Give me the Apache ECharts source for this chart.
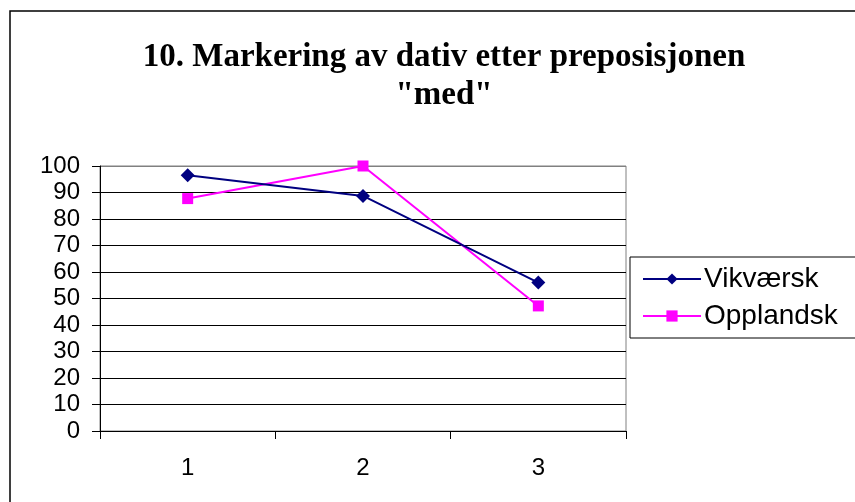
<!DOCTYPE html>
<html>
<head>
<meta charset="utf-8">
<script src="https://cdn.jsdelivr.net/npm/echarts@6/dist/echarts.min.js"></script>
<style>
  html, body { margin: 0; padding: 0; background: #fff; }
  #chart { width: 855px; height: 502px; }
</style>
</head>
<body>
<div id="chart"></div>
<script>
// Categories and series values
var categories = ['1', '2', '3'];
var vikvaersk = [96.5, 88.7, 56.0];
var opplandsk = [87.7, 100, 47.2];
var seriesNames = ['Vikværsk', 'Opplandsk'];
var titleText = '10. Markering av dativ etter preposisjonen\n"med"';
var yMin = 0, yMax = 100, yStep = 10;

var chart = echarts.init(document.getElementById('chart'), null, { renderer: 'canvas' });

var axisFont = 'Liberation Sans, Arial, sans-serif';

var option = {
  backgroundColor: '#ffffff',
  animation: false,
  title: {
    text: titleText,
    left: 439,
    top: 33,
    textAlign: 'center',
    textStyle: {
      fontFamily: 'Liberation Serif, Times New Roman, serif',
      fontWeight: 'bold',
      fontSize: 33,
      lineHeight: 38,
      color: '#000'
    }
  },
  graphic: [{
    type: 'rect',
    shape: { x: 10, y: 11, width: 900, height: 600 },
    style: { fill: 'none', stroke: '#000', lineWidth: 1.5 },
    silent: true,
    z: 100
  }],
  legend: {
    orient: 'vertical',
    left: 630,
    top: 257,
    data: seriesNames,
    backgroundColor: '#fff',
    borderColor: '#000',
    borderWidth: 1,
    padding: [8, 60, 8, 12],
    itemWidth: 58,
    itemHeight: 14,
    itemGap: 9,
    textStyle: {
      fontFamily: axisFont,
      fontSize: 28,
      color: '#000',
      padding: [0, 0, 0, -2]
    }
  },
  grid: {
    left: 100,
    right: 229,
    top: 166,
    bottom: 71,
    show: true,
    borderColor: '#808080',
    borderWidth: 1,
    backgroundColor: '#fff'
  },
  xAxis: {
    type: 'category',
    data: categories,
    boundaryGap: true,
    axisLine: { lineStyle: { color: '#000', width: 1 } },
    axisTick: { show: true, length: 8, lineStyle: { color: '#000' } },
    axisLabel: {
      fontFamily: axisFont,
      fontSize: 24,
      color: '#000',
      margin: 25
    },
    splitLine: { show: false }
  },
  yAxis: {
    type: 'value',
    min: yMin,
    max: yMax,
    interval: yStep,
    axisLine: { show: true, lineStyle: { color: '#000', width: 1 } },
    axisTick: { show: true, length: 8, lineStyle: { color: '#000' } },
    axisLabel: {
      fontFamily: axisFont,
      fontSize: 24,
      color: '#000',
      margin: 20
    },
    splitLine: {
      show: true,
      lineStyle: {
        color: ['#000', '#000', '#000', '#000', '#000', '#000', '#000', '#000', '#000', '#000', '#808080'],
        width: 1
      }
    }
  },
  series: [{
    name: seriesNames[0],
    type: 'line',
    data: vikvaersk,
    symbol: 'diamond',
    symbolSize: 14,
    lineStyle: { color: '#000080', width: 2 },
    itemStyle: { color: '#000080' },
    z: 3
  }, {
    name: seriesNames[1],
    type: 'line',
    data: opplandsk,
    symbol: 'rect',
    symbolSize: 11,
    lineStyle: { color: '#ff00ff', width: 2 },
    itemStyle: { color: '#ff00ff' },
    z: 2
  }]
};

chart.setOption(option);
</script>
</body>
</html>
